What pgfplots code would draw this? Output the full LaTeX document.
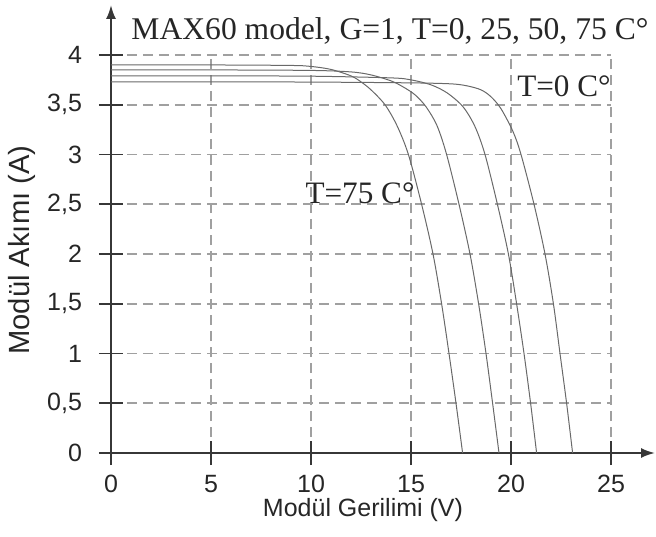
\documentclass[border=0pt]{standalone}
\usepackage{fontspec}
\setmainfont{Liberation Sans}
\newfontfamily\timesfont{Liberation Serif}
\usepackage{pgfplots}
\pgfplotsset{compat=1.18}
\usetikzlibrary{arrows.meta}

\definecolor{gridgray}{RGB}{160,160,160}
\definecolor{curvegray}{RGB}{105,105,105}
\definecolor{axisgray}{RGB}{55,55,55}

\begin{document}
\begin{tikzpicture}
\useasboundingbox (-55.5pt,-41.5pt) rectangle (272.5pt,226.5pt);
\begin{axis}[
    at={(0,0)}, anchor=south west,
    scale only axis,
    width=250pt, height=199pt,
    xmin=0, xmax=25, ymin=0, ymax=4,
    axis lines=left,
    axis line style={axisgray, line width=1pt, -{Latex[length=7pt,width=5pt]}},
    x axis line style={shorten >=-22pt},
    y axis line style={shorten >=-25pt},
    xtick={0,5,10,15,20,25},
    ytick={0,0.5,1,1.5,2,2.5,3,3.5,4},
    tick align=center,
    major tick length=12pt,
    tick style={axisgray, line width=0.8pt},
    grid=major,
    major grid style={gridgray, line width=0.9pt, dash pattern=on 5pt off 3pt},
    /pgf/number format/use comma,
    /pgf/number format/assume math mode=true,
    ticklabel style={font=\fontsize{12.5}{14}\selectfont, text=black!85},
    yticklabel style={xshift=-5pt},
    xticklabel style={yshift=-1.5pt},
    clip=false,
]
% T = 75
\addplot[curvegray, line width=0.5pt, smooth] coordinates {
    (0,3.90) (5,3.90) (9,3.895) (10,3.885) (11,3.855) (12,3.79) (12.5,3.73)
    (13.0,3.65) (13.7,3.50) (14.3,3.29) (14.87,3.0) (15.53,2.5) (16.1,2.0)
    (16.53,1.5) (16.9,1.0) (17.25,0.5) (17.58,0)
};
% T = 50
\addplot[curvegray, line width=0.5pt, smooth] coordinates {
    (0,3.85) (5,3.85) (10,3.845) (12,3.83) (13,3.80) (14,3.74) (14.6,3.68)
    (15.2,3.60) (15.75,3.48) (16.3,3.29) (16.78,3.0) (17.4,2.5) (17.95,2.0)
    (18.38,1.5) (18.75,1.0) (19.08,0.5) (19.4,0)
};
% T = 25
\addplot[curvegray, line width=0.5pt, smooth] coordinates {
    (0,3.79) (5,3.79) (10,3.787) (14,3.77) (15,3.75) (16,3.70) (16.8,3.62)
    (17.6,3.48) (18.2,3.28) (18.7,3.0) (19.32,2.5) (19.87,2.0) (20.28,1.5)
    (20.65,1.0) (20.98,0.5) (21.28,0)
};
% T = 0
\addplot[curvegray, line width=0.5pt, smooth] coordinates {
    (0,3.73) (5,3.73) (10,3.728) (15,3.72) (17,3.71) (17.8,3.69) (18.5,3.65)
    (19.0,3.58) (19.5,3.46) (20.1,3.23) (20.5,3.0) (21.15,2.5) (21.7,2.0)
    (22.12,1.5) (22.45,1.0) (22.78,0.5) (23.08,0)
};
\node[font=\timesfont\fontsize{15.8}{18}\selectfont, text=black!85]
    at (axis cs:13.95,4.24) {MAX60 model, G=1, T=0, 25, 50, 75 C°};
\node[font=\timesfont\fontsize{15.6}{18}\selectfont, text=black!85]
    at (axis cs:22.65,3.69) {T=0 C°};
\node[font=\timesfont\fontsize{15.6}{18}\selectfont, text=black!85]
    at (axis cs:12.45,2.61) {T=75 C°};
\node[font=\fontsize{12.5}{14}\selectfont, text=black!85]
    at (axis cs:12.6,-0.573) {Modül Gerilimi (V)};
\node[font=\fontsize{14.6}{16}\selectfont, text=black!85, rotate=90]
    at (axis cs:-4.45,2.04) {Modül Akımı (A)};
\end{axis}
\end{tikzpicture}
\end{document}
